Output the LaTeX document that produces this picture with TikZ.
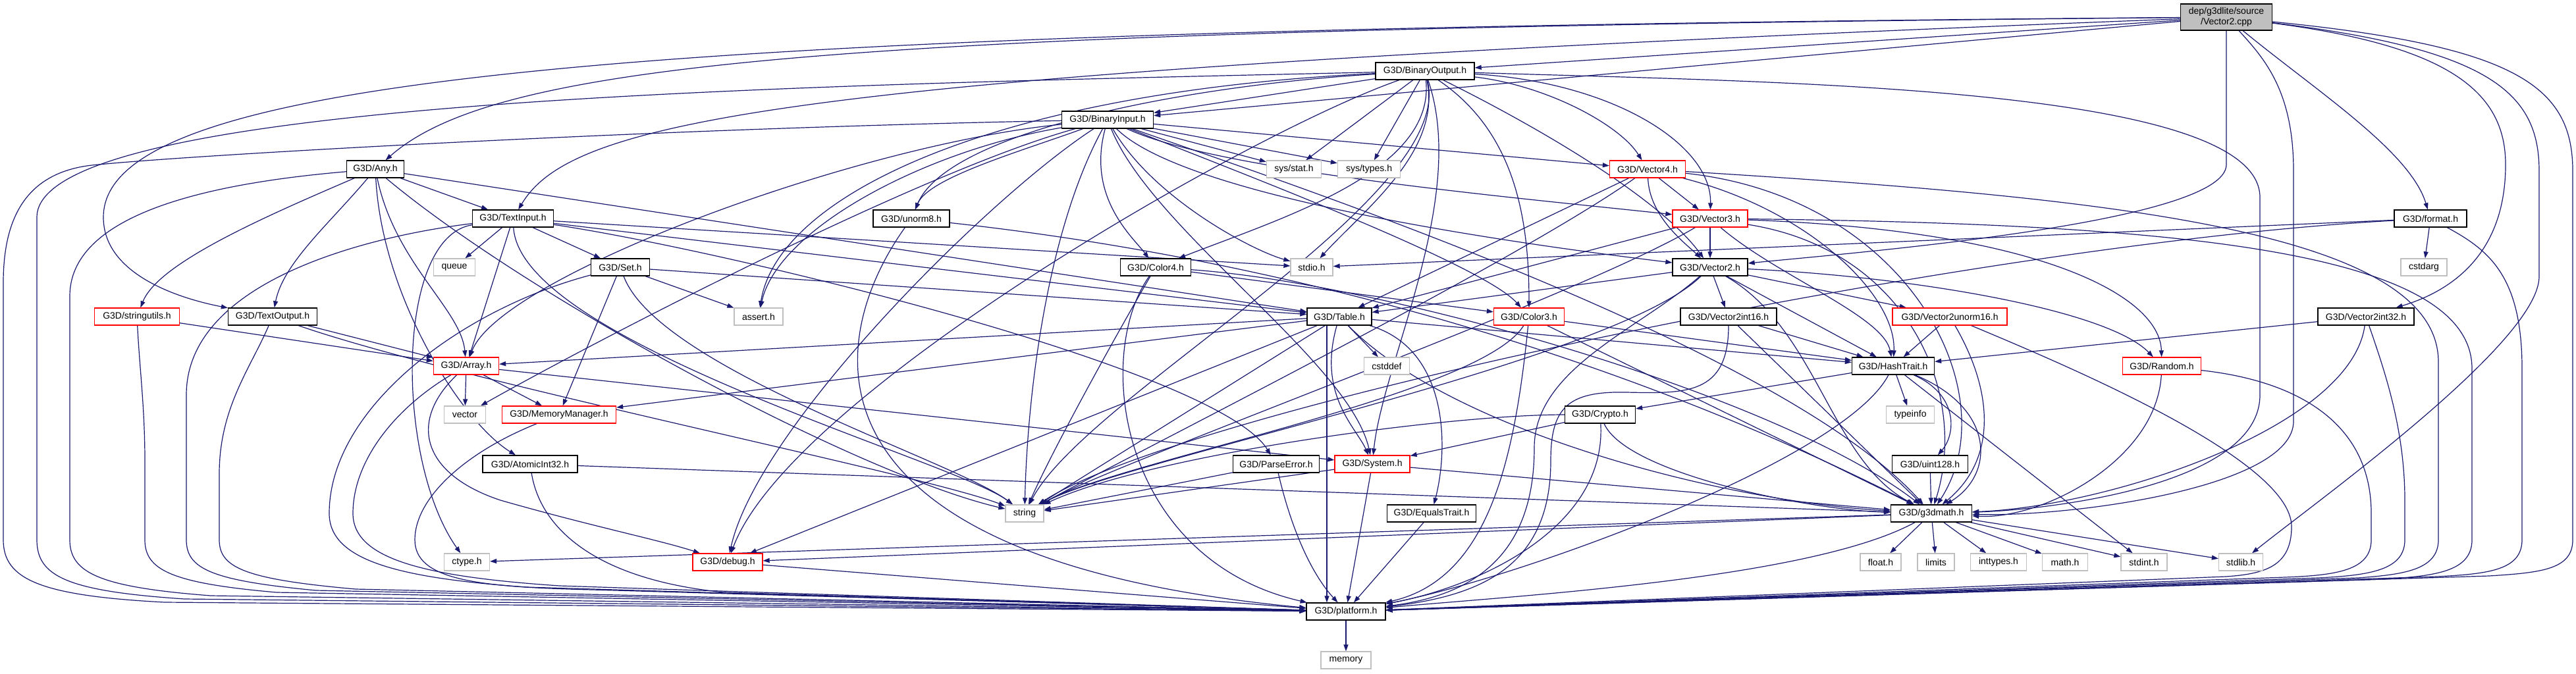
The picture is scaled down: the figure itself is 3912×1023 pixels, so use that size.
\documentclass[tikz,border=0pt]{standalone}
\usepackage{fontspec}
\setmainfont{Liberation Sans}
\usetikzlibrary{arrows.meta}
\definecolor{edgec}{HTML}{191970}
\definecolor{grayb}{HTML}{BFBFBF}
\definecolor{redb}{HTML}{FF0000}
\pgfdeclarelayer{bg}
\pgfsetlayers{bg,main}
\begin{document}
\begin{tikzpicture}[x=1pt,y=-1pt,
  nbox/.style={rectangle, minimum height=26pt, inner xsep=3pt, inner ysep=0pt,
    font=\fontsize{14}{16}\selectfont, line width=1.3pt, fill=white},
  blk/.style={nbox, draw=black},
  redbox/.style={nbox, draw=redb},
  sysbox/.style={nbox, draw=grayb},
  wd/.style={minimum width=#1pt},
  dep/.style={draw=edgec, line width=1.2pt, -{Triangle[length=10pt,width=7pt]}}
]
\useasboundingbox (0,0) rectangle (3912,1023);

% ---------- nodes ----------
\node[blk, fill=grayb, wd=139, minimum height=40pt, align=center] (root) at (3381,26) {dep/g3dlite/source\\/Vector2.cpp};
\node[blk, wd=150] (bout) at (2164,108) {G3D/BinaryOutput.h};
\node[blk, wd=139] (bin) at (1682,182) {G3D/BinaryInput.h};
\node[blk, wd=87] (any) at (570,257) {G3D/Any.h};
\node[sysbox, wd=83] (sstat) at (1965,257) {sys/stat.h};
\node[sysbox, wd=95] (stypes) at (2079,257) {sys/types.h};
\node[redbox, wd=115] (v4) at (2502,257) {G3D/Vector4.h};
\node[blk, wd=123] (tin) at (779,332) {G3D/TextInput.h};
\node[blk, wd=116] (u8) at (1384,332) {G3D/unorm8.h};
\node[redbox, wd=114] (v3) at (2597,332) {G3D/Vector3.h};
\node[blk, wd=110] (fmt) at (3691,332) {G3D/format.h};
\node[sysbox, wd=63] (queue) at (690,406) {queue};
\node[blk, wd=89] (set) at (942,406) {G3D/Set.h};
\node[blk, wd=107] (c4) at (1755,406) {G3D/Color4.h};
\node[sysbox, wd=64] (stdio) at (1992,406) {stdio.h};
\node[blk, wd=114] (v2) at (2597,406) {G3D/Vector2.h};
\node[sysbox, wd=70] (cstdarg) at (3681,406) {cstdarg};
\node[redbox, wd=129] (strutil) at (208,481) {G3D/stringutils.h};
\node[blk, wd=135] (tout) at (414,481) {G3D/TextOutput.h};
\node[sysbox, wd=74] (assert) at (1152,481) {assert.h};
\node[blk, wd=98] (table) at (2034,481) {G3D/Table.h};
\node[redbox, wd=107] (c3) at (2322,481) {G3D/Color3.h};
\node[blk, wd=146] (v2i16) at (2625,481) {G3D/Vector2int16.h};
\node[redbox, wd=174] (v2u16) at (2961,481) {G3D/Vector2unorm16.h};
\node[blk, wd=146] (v2i32) at (3593,481) {G3D/Vector2int32.h};
\node[redbox, wd=99] (array) at (708,556) {G3D/Array.h};
\node[sysbox, wd=69] (cstddef) at (2106,556) {cstddef};
\node[blk, wd=125] (hash) at (2875,556) {G3D/HashTrait.h};
\node[redbox, wd=119] (random) at (3283,556) {G3D/Random.h};
\node[sysbox, wd=63] (vector) at (706,630) {vector};
\node[redbox, wd=173] (mem) at (849,630) {G3D/MemoryManager.h};
\node[blk, wd=107] (crypto) at (2430,630) {G3D/Crypto.h};
\node[sysbox, wd=73] (typeinfo) at (2901,630) {typeinfo};
\node[blk, wd=144] (atomic) at (805,705) {G3D/AtomicInt32.h};
\node[blk, wd=131] (perr) at (1938,705) {G3D/ParseError.h};
\node[redbox, wd=114] (system) at (2084,705) {G3D/System.h};
\node[blk, wd=115] (u128) at (2931,705) {G3D/uint128.h};
\node[sysbox, wd=58] (string) at (1556,780) {string};
\node[blk, wd=135] (equals) at (2174,780) {G3D/EqualsTrait.h};
\node[blk, wd=123] (math3d) at (2933,780) {G3D/g3dmath.h};
\node[sysbox, wd=69] (ctype) at (709,854) {ctype.h};
\node[redbox, wd=106] (debug) at (1105,854) {G3D/debug.h};
\node[sysbox, wd=62] (float) at (2856,854) {float.h};
\node[sysbox, wd=56] (limits) at (2940,854) {limits};
\node[sysbox, wd=85] (inttypes) at (3035,854) {inttypes.h};
\node[sysbox, wd=69] (mathh) at (3136,854) {math.h};
\node[sysbox, wd=70] (stdint) at (3256,854) {stdint.h};
\node[sysbox, wd=67] (stdlib) at (3403,854) {stdlib.h};
\node[blk, wd=120] (platform) at (2044,929) {G3D/platform.h};
\node[sysbox, wd=76] (memory) at (2044,1003) {memory};

% ---------- edges ----------
\begin{pgfonlayer}{bg}
\fill[white] (0,0) rectangle (3912,1023);
% root
\draw[dep] (root) -- (bout);
\draw[dep] (root) -- (bin);
\draw[dep] (root) .. controls (1300,45) and (760,90) .. (any);
\draw[dep] (root) .. controls (1200,110) and (870,180) .. (tin);
\draw[dep] (root) .. controls (1000,45) and (157,110) .. (157,330) .. controls (157,420) and (280,455) .. (tout);
\draw[dep] (root) -- (3381,250) .. controls (3381,340) and (2800,385) .. (v2);
\draw[dep] (root) .. controls (3520,140) and (3660,230) .. (fmt);
\draw[dep] (root) .. controls (3440,90) and (3483,140) .. (3483,260) -- (3483,640) .. controls (3483,740) and (3150,785) .. (math3d);
\draw[dep] (root) .. controls (3720,70) and (3805,140) .. (3805,250) .. controls (3805,380) and (3730,440) .. (v2i32);
\draw[dep] (root) .. controls (3820,70) and (3907,130) .. (3907,260) -- (3907,820) .. controls (3907,865) and (3860,870) .. (3780,875) -- (platform);
\draw[dep] (root) .. controls (3780,75) and (3856,140) .. (3856,260) -- (3856,420) .. controls (3856,520) and (3520,760) .. (stdlib);
% BinaryOutput
\draw[dep] (bout) -- (bin);
\draw[dep] (bout) -- (sstat);
\draw[dep] (bout) -- (stypes);
\draw[dep] (bout) .. controls (2350,130) and (2460,190) .. (v4);
\draw[dep] (bout) .. controls (2450,125) and (2600,220) .. (v3);
\draw[dep] (bout) .. controls (2330,190) and (2520,300) .. (v2);
\draw[dep] (bout) .. controls (2300,200) and (2322,330) .. (c3);
\draw[dep] (bout) .. controls (2190,230) and (2070,320) .. (stdio);
\draw[dep] (bout) .. controls (2180,260) and (1950,330) .. (c4);
\draw[dep] (bout) .. controls (1800,130) and (1440,200) .. (u8);
\draw[dep] (bout) .. controls (1500,140) and (1180,300) .. (assert);
\draw[dep] (bout) .. controls (2214,300) and (1650,600) .. (string);
\draw[dep] (bout) .. controls (1900,200) and (1200,600) .. (debug);
\draw[dep] (bout) .. controls (2230,300) and (2100,550) .. (system);
\draw[dep] (bout) .. controls (2700,125) and (3432,130) .. (3432,300) -- (3432,600) .. controls (3432,740) and (3100,775) .. (math3d);
\draw[dep] (bout) .. controls (1200,130) and (56,150) .. (56,330) -- (56,820) .. controls (56,875) and (100,898) .. (280,910) -- (platform);
% BinaryInput
\draw[dep] (bin) -- (sstat);
\draw[dep] (bin) -- (stypes);
\draw[dep] (bin) .. controls (1550,230) and (1410,270) .. (u8);
\draw[dep] (bin) .. controls (1650,300) and (1720,360) .. (c4);
\draw[dep] (bin) .. controls (1750,300) and (1900,380) .. (stdio);
\draw[dep] (bin) .. controls (1400,260) and (900,520) .. (vector);
\draw[dep] (bin) .. controls (1400,230) and (1180,350) .. (assert);
\draw[dep] (bin) .. controls (1590,350) and (1560,600) .. (string);
\draw[dep] (bin) .. controls (1500,300) and (1150,650) .. (debug);
\draw[dep] (bin) .. controls (1750,350) and (2050,550) .. (system);
\draw[dep] (bin) .. controls (1300,220) and (760,420) .. (array);
\draw[dep] (bin) .. controls (1850,250) and (2250,400) .. (c3);
\draw[dep] (bin) -- (v4);
\draw[dep] (bin) .. controls (1850,260) and (2300,300) .. (v3);
\draw[dep] (bin) .. controls (1800,300) and (2300,370) .. (v2);
\draw[dep] (bin) .. controls (1900,260) and (2700,520) .. (math3d);
\draw[dep] (bin) .. controls (1000,195) and (300,235) .. (150,250) .. controls (40,258) and (5,330) .. (5,430) -- (5,820) .. controls (5,880) and (60,905) .. (250,915) -- (platform);
% Any
\draw[dep] (any) -- (tin);
\draw[dep] (any) .. controls (400,330) and (240,400) .. (strutil);
\draw[dep] (any) .. controls (500,340) and (430,400) .. (tout);
\draw[dep] (any) .. controls (600,400) and (700,470) .. (array);
\draw[dep] (any) -- (table);
\draw[dep] (any) .. controls (580,450) and (700,640) .. (atomic);
\draw[dep] (any) .. controls (800,450) and (1300,720) .. (string);
\draw[dep] (any) .. controls (300,280) and (106,330) .. (106,450) -- (106,820) .. controls (106,870) and (150,892) .. (320,905) -- (platform);
% TextInput
\draw[dep] (tin) -- (queue);
\draw[dep] (tin) -- (set);
\draw[dep] (tin) -- (array);
\draw[dep] (tin) .. controls (1100,380) and (1850,560) .. (perr);
\draw[dep] (tin) -- (stdio);
\draw[dep] (tin) -- (table);
\draw[dep] (tin) .. controls (600,360) and (600,700) .. (ctype);
\draw[dep] (tin) .. controls (790,520) and (1450,700) .. (string);
\draw[dep] (tin) .. controls (550,360) and (283,430) .. (283,600) -- (283,820) .. controls (283,864) and (320,882) .. (480,897) -- (platform);
% unorm8
\draw[dep] (u8) .. controls (1250,520) and (1200,850) .. (platform);
\draw[dep] (u8) .. controls (2000,400) and (2500,560) .. (math3d);
% Vector4
\draw[dep] (v4) -- (v3);
\draw[dep] (v4) .. controls (2505,330) and (2560,370) .. (v2);
\draw[dep] (v4) -- (table);
\draw[dep] (v4) .. controls (2300,400) and (1700,700) .. (string);
\draw[dep] (v4) .. controls (2750,320) and (2880,450) .. (hash);
\draw[dep] (v4) .. controls (2900,300) and (3050,600) .. (math3d);
\draw[dep] (v4) .. controls (3200,300) and (3703,350) .. (3703,550) -- (3703,820) .. controls (3703,866) and (3650,873) .. (3580,878) -- (platform);
% Vector3
\draw[dep] (v3) -- (v2);
\draw[dep] (v3) -- (table);
\draw[dep] (v3) .. controls (2400,450) and (1700,700) .. (string);
\draw[dep] (v3) .. controls (3100,350) and (3280,450) .. (random);
\draw[dep] (v3) .. controls (2700,420) and (2860,480) .. (hash);
\draw[dep] (v3) .. controls (2900,380) and (2990,600) .. (math3d);
\draw[dep] (v3) .. controls (3300,340) and (3754,380) .. (3754,560) -- (3754,820) .. controls (3754,868) and (3700,875) .. (3620,880) -- (platform);
% format
\draw[dep] (fmt) -- (stdio);
\draw[dep] (fmt) .. controls (3000,370) and (1800,620) .. (string);
\draw[dep] (fmt) -- (cstdarg);
\draw[dep] (fmt) .. controls (3780,380) and (3830,420) .. (3830,560) -- (3830,820) .. controls (3830,866) and (3780,872) .. (3700,876) -- (platform);
% Set
\draw[dep] (set) -- (table);
\draw[dep] (set) -- (mem);
\draw[dep] (set) -- (assert);
\draw[dep] (set) .. controls (1000,560) and (1450,700) .. (string);
\draw[dep] (set) .. controls (700,470) and (500,620) .. (500,780) .. controls (500,850) and (600,878) .. (800,892) -- (platform);
% Color4
\draw[dep] (c4) -- (c3);
\draw[dep] (c4) .. controls (2100,430) and (2700,600) .. (math3d);
\draw[dep] (c4) .. controls (1700,500) and (1600,680) .. (string);
\draw[dep] (c4) .. controls (1660,540) and (1700,850) .. (platform);
% Vector2
\draw[dep] (v2) -- (table);
\draw[dep] (v2) -- (v2i16);
\draw[dep] (v2) -- (v2u16);
\draw[dep] (v2) -- (hash);
\draw[dep] (v2) .. controls (2900,420) and (3200,470) .. (random);
\draw[dep] (v2) .. controls (2760,500) and (2780,700) .. (math3d);
\draw[dep] (v2) .. controls (2450,550) and (1700,700) .. (string);
\draw[dep] (v2) .. controls (2490,500) and (2330,560) .. (2330,680) .. controls (2330,850) and (2230,905) .. (platform);
% stringutils
\draw[dep] (strutil) -- (array);
\draw[dep] (strutil) .. controls (212,560) and (220,620) .. (220,700) -- (220,820) .. controls (220,866) and (260,886) .. (420,900) -- (platform);
% TextOutput
\draw[dep] (tout) -- (array);
\draw[dep] (tout) .. controls (700,580) and (1400,720) .. (string);
\draw[dep] (tout) .. controls (380,560) and (333,620) .. (333,720) -- (333,820) .. controls (333,862) and (370,880) .. (540,895) -- (platform);
% Table
\draw[dep] (table) -- (array);
\draw[dep] (table) -- (cstddef);
\draw[dep] (table) -- (mem);
\draw[dep] (table) -- (debug);
\draw[dep] (table) .. controls (2000,600) and (2060,650) .. (system);
\draw[dep] (table) .. controls (2200,530) and (2200,680) .. (equals);
\draw[dep] (table) -- (hash);
\draw[dep] (table) .. controls (2200,650) and (2600,760) .. (math3d);
\draw[dep] (table) -- (string);
\draw[dep] ([xshift=-19pt]table.south) -- ([xshift=-29pt]platform.north);
% Color3
\draw[dep] (c3) -- (hash);
\draw[dep] (c3) -- (math3d);
\draw[dep] (c3) .. controls (2250,600) and (1700,700) .. (string);
\draw[dep] (c3) .. controls (2300,700) and (2260,880) .. (platform);
% Vector2int16
\draw[dep] (v2i16) -- (hash);
\draw[dep] (v2i16) -- (math3d);
\draw[dep] (v2i16) .. controls (2625,600) and (2560,598) .. (2470,596) .. controls (2380,594) and (2355,620) .. (2355,700) .. controls (2355,860) and (2250,905) .. (platform);
% Vector2unorm16
\draw[dep] (v2u16) -- (hash);
\draw[dep] (v2u16) .. controls (3030,600) and (3030,700) .. (math3d);
\draw[dep] (v2u16) .. controls (3150,560) and (3480,700) .. (3480,800) .. controls (3480,860) and (3440,872) .. (3380,876) -- (platform);
% Vector2int32
\draw[dep] (v2i32) -- (hash);
\draw[dep] (v2i32) .. controls (3570,650) and (3200,770) .. (math3d);
\draw[dep] (v2i32) .. controls (3620,560) and (3652,650) .. (3652,760) -- (3652,820) .. controls (3652,866) and (3600,874) .. (3520,878) -- (platform);
% Array
\draw[dep] (array) -- (vector);
\draw[dep] (array) -- (mem);
\draw[dep] (array) -- (system);
\draw[dep] (array) .. controls (620,640) and (640,720) .. (760,760) .. controls (900,800) and (1000,820) .. (debug);
\draw[dep] (array) .. controls (600,620) and (536,700) .. (536,780) .. controls (536,848) and (640,876) .. (850,890) -- (platform);
% HashTrait
\draw[dep] (hash) -- (crypto);
\draw[dep] (hash) -- (typeinfo);
\draw[dep] (hash) .. controls (2975,600) and (2970,660) .. (u128);
\draw[dep] (hash) .. controls (3030,620) and (3030,720) .. (math3d);
\draw[dep] (hash) -- (stdint);
\draw[dep] (hash) .. controls (2800,700) and (2300,880) .. (platform);
% Random
\draw[dep] (random) .. controls (3275,700) and (3100,790) .. (math3d);
\draw[dep] (random) .. controls (3500,580) and (3601,650) .. (3601,780) -- (3601,820) .. controls (3601,866) and (3550,874) .. (3470,877) -- (platform);
% MemoryManager
\draw[dep] (mem) .. controls (700,690) and (630,760) .. (630,820) .. controls (630,880) and (720,892) .. (900,896) -- (platform);
% Crypto
\draw[dep] (crypto) -- (system);
\draw[dep] (crypto) .. controls (2200,630) and (1750,690) .. (string);
\draw[dep] (crypto) .. controls (2470,720) and (2750,775) .. (math3d);
\draw[dep] (crypto) .. controls (2440,800) and (2250,890) .. (platform);
% AtomicInt32
\draw[dep] (atomic) -- (math3d);
\draw[dep] (atomic) .. controls (820,800) and (900,880) .. (1100,900) -- (platform);
% ParseError
\draw[dep] (perr) -- (string);
\draw[dep] (perr) .. controls (1960,800) and (1990,870) .. (platform);
% System
\draw[dep] (system) -- (platform);
\draw[dep] (system) -- (math3d);
\draw[dep] (system) -- (string);
% misc
\draw[dep] (u128) -- (math3d);
\draw[dep] (equals) -- (platform);
% g3dmath
\draw[dep] (math3d) -- (ctype);
\draw[dep] (math3d) -- (debug);
\draw[dep] (math3d) -- (float);
\draw[dep] (math3d) -- (limits);
\draw[dep] (math3d) -- (inttypes);
\draw[dep] (math3d) -- (mathh);
\draw[dep] (math3d) -- (stdint);
\draw[dep] (math3d) -- (stdlib);
\draw[dep] (math3d) .. controls (2750,880) and (2300,905) .. (platform);
% debug / platform
\draw[dep] (debug) -- (platform);
\draw[dep] (platform) -- (memory);
\end{pgfonlayer}
\end{tikzpicture}
\end{document}
